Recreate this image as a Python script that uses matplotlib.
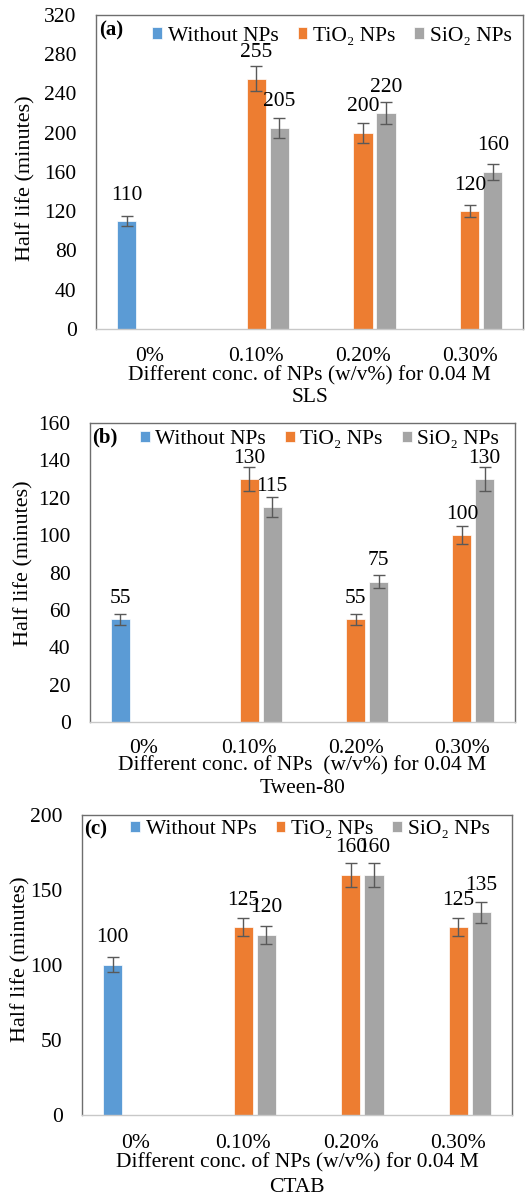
import matplotlib
matplotlib.use("Agg")
import matplotlib.pyplot as plt
import numpy as np

plt.rcParams['font.family'] = ['Liberation Serif', 'DejaVu Serif']

categories = ['0%', '0.10%', '0.20%', '0.30%']
series_names = ['Without NPs', 'TiO\u2082 NPs', 'SiO\u2082 NPs']
colors = ['#5b9bd5', '#ed7d31', '#a5a5a5']
nan = np.nan

# (a) SLS
sls_without = [110, nan, nan, nan]
sls_tio2 = [nan, 255, 200, 120]
sls_sio2 = [nan, 205, 220, 160]
sls_without_err = [5, nan, nan, nan]
sls_tio2_err = [nan, 12.5, 10, 6]
sls_sio2_err = [nan, 10, 11, 8]

# (b) Tween-80
tw_without = [55, nan, nan, nan]
tw_tio2 = [nan, 130, 55, 100]
tw_sio2 = [nan, 115, 75, 130]
tw_without_err = [3, nan, nan, nan]
tw_tio2_err = [nan, 6.5, 3, 5]
tw_sio2_err = [nan, 5.5, 3.5, 6.5]

# (c) CTAB
ctab_without = [100, nan, nan, nan]
ctab_tio2 = [nan, 125, 160, 125]
ctab_sio2 = [nan, 120, 160, 135]
ctab_without_err = [5, nan, nan, nan]
ctab_tio2_err = [nan, 6, 8, 6]
ctab_sio2_err = [nan, 6, 8, 7]

panels = [
    dict(tag='(a)', vals=[sls_without, sls_tio2, sls_sio2],
         errs=[sls_without_err, sls_tio2_err, sls_sio2_err],
         yticks=np.arange(0, 321, 40), surf='SLS',
         xlabel='Different conc. of NPs (w/v%) for 0.04 M',
         pos=[0.182, 0.7254, 0.809, 0.2621],
         lab_off=26, xl_off=(47, 69), tick_pad=13, ylab_x=-0.164,
         ylab_y=0.48, leg_anchor=(1.0, 1.0)),
    dict(tag='(b)', vals=[tw_without, tw_tio2, tw_sio2],
         errs=[tw_without_err, tw_tio2_err, tw_sio2_err],
         yticks=np.arange(0, 161, 20), surf='Tween-80',
         xlabel='Different conc. of NPs  (w/v%) for 0.04 M',
         pos=[0.1705, 0.3973, 0.805, 0.2496],
         lab_off=21, xl_off=(44, 66), tick_pad=12, ylab_x=-0.155,
         ylab_y=0.53, leg_anchor=(0.99, 1.015)),
    dict(tag='(c)', vals=[ctab_without, ctab_tio2, ctab_sio2],
         errs=[ctab_without_err, ctab_tio2_err, ctab_sio2_err],
         yticks=np.arange(0, 201, 50), surf='CTAB',
         xlabel='Different conc. of NPs (w/v%) for 0.04 M',
         pos=[0.1553, 0.0693, 0.8144, 0.2504],
         lab_off=27, xl_off=(48, 73), tick_pad=14, ylab_x=-0.142,
         ylab_y=0.52, leg_anchor=(0.975, 1.022)),
]

fig = plt.figure(figsize=(5.28, 11.98), dpi=100)
px = 72.0 / 100  # points per pixel

x = np.arange(len(categories))
step = 0.215
width = 0.18

for p in panels:
    ax = fig.add_axes(p['pos'])
    for i, (vals, errs) in enumerate(zip(p['vals'], p['errs'])):
        v = np.array(vals, dtype=float)
        e = np.array(errs, dtype=float)
        m = ~np.isnan(v)
        xs = x[m] + (i - 1) * step
        ax.bar(xs, v[m], width, color=colors[i], edgecolor='white',
               linewidth=0.5, label=series_names[i], zorder=2)
        ax.errorbar(xs, v[m], yerr=e[m], fmt='none', ecolor='#595959',
                    elinewidth=1, capsize=4.5, capthick=1, zorder=3)
        for xx, vv in zip(xs, v[m]):
            ax.annotate('%d' % vv, (xx, vv), xytext=(0, p['lab_off'] * px),
                        textcoords='offset points', ha='center', va='center',
                        fontsize=15.5, zorder=4)

    ax.set_xlim(-0.5, 3.5)
    ax.set_ylim(p['yticks'][0], p['yticks'][-1])
    ax.set_yticks(p['yticks'])
    ax.set_xticks(x)
    ax.set_xticklabels(categories)
    ax.tick_params(axis='both', length=0, labelsize=15.5)
    ax.tick_params(axis='x', pad=p['tick_pad'])
    ax.tick_params(axis='y', pad=14)
    for s in ['left', 'top', 'right']:
        ax.spines[s].set_color('#6e6e6e')
        ax.spines[s].set_linewidth(1)
    ax.spines['bottom'].set_color('#c8c8c8')
    ax.spines['bottom'].set_linewidth(1)

    # two-line axis title under the category labels
    for txt, off in zip([p['xlabel'], p['surf']], p['xl_off']):
        ax.annotate(txt, (0.5, 0), xycoords='axes fraction',
                    xytext=(0, -off * px), textcoords='offset points',
                    ha='center', va='center', fontsize=15.5)

    ax.set_ylabel('Half life (minutes)', fontsize=16, va='center')
    ax.yaxis.set_label_coords(p['ylab_x'], p['ylab_y'])

    ax.text(0.006, 0.952, p['tag'], transform=ax.transAxes, fontsize=15,
            fontweight='bold', ha='left', va='center')
    ax.legend(loc='upper right', bbox_to_anchor=p['leg_anchor'], ncol=3,
              frameon=False, fontsize=15.5, handlelength=0.45,
              handleheight=0.45, handletextpad=0.25, columnspacing=0.9,
              borderaxespad=0.15)

fig.savefig('out.png', dpi=100)
